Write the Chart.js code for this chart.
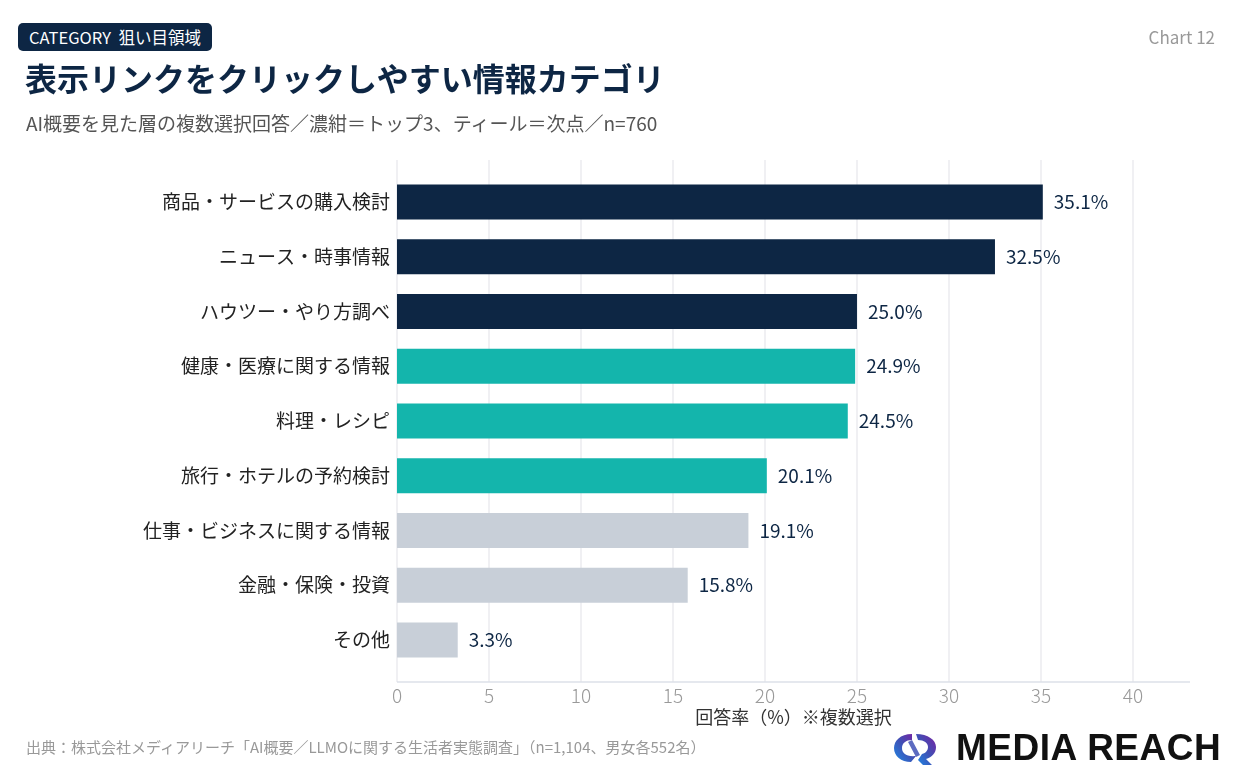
<!DOCTYPE html>
<html lang="ja">
<head>
<meta charset="utf-8">
<script src="https://cdn.jsdelivr.net/npm/chart.js@4"></script>
<style>
  html, body { margin: 0; padding: 0; background: #fff; }
  body { width: 1240px; height: 769px; position: relative; overflow: hidden;
         font-family: "Noto Sans CJK JP", "Noto Sans", sans-serif; }
  #myChart { position: absolute; left: 0; top: 0; }
  .badge { position: absolute; left: 18px; top: 23px; height: 28px; padding: 0 11px;
           background: #0d2644; color: #fff; border-radius: 5px; font-size: 16.5px; line-height: 28px; }
  .title { position: absolute; left: 25px; top: 54px; font-size: 32px; font-weight: 700; color: #0d2644; }
  .sub { position: absolute; left: 26px; top: 109px; font-size: 19px; color: #555; }
  .num { position: absolute; right: 25px; top: 24px; font-size: 17px; color: #999; }
  .src { position: absolute; left: 26px; top: 736px; font-size: 15px; color: #999; }
  .logo { position: absolute; left: 892px; top: 728px; height: 40px; display: flex; align-items: center; }
  .logo span { font-family: "Liberation Sans", Arial, sans-serif; font-weight: 700; font-size: 37px;
               color: #111; margin-left: 18px; letter-spacing: 0.5px; }
</style>
</head>
<body>
<canvas id="myChart" width="1240" height="769"></canvas>
<div class="badge">CATEGORY&nbsp;&nbsp;狙い目領域</div>
<div class="title">表示リンクをクリックしやすい情報カテゴリ</div>
<div class="sub">AI概要を見た層の複数選択回答／濃紺＝トップ3、ティール＝次点／n=760</div>
<div class="num">Chart 12</div>
<div class="src">出典：株式会社メディアリーチ「AI概要／LLMOに関する生活者実態調査」（n=1,104、男女各552名）</div>
<div class="logo">
  <svg width="46" height="38" viewBox="0 0 46 38">
    <defs>
      <linearGradient id="lg" x1="0" y1="1" x2="1" y2="0">
        <stop offset="0" stop-color="#1e88e5"/>
        <stop offset="0.5" stop-color="#3f51b5"/>
        <stop offset="1" stop-color="#7b1fa2"/>
      </linearGradient>
    </defs>
    <path d="M20 5 C8 5 2 12 2 19 C2 27 9 33 19 33 L24 27 C14 28 10 24 10 19 C10 14 14 11 20 11 Z" fill="url(#lg)"/>
    <path d="M24 5 C36 5 44 11 44 18 C44 24 40 28 34 30 L40 36 L31 36 L26 31 L30 25 C34 24 36 21 36 18 C36 14 32 11 26 11 Z" fill="url(#lg)"/>
    <path d="M20 11 L28 26 L24 28 L16 13 Z" fill="#5c6bc0"/>
  </svg>
  <span>MEDIA REACH</span>
</div>
<script>
const categories = ['商品・サービスの購入検討', 'ニュース・時事情報', 'ハウツー・やり方調べ', '健康・医療に関する情報',
  '料理・レシピ', '旅行・ホテルの予約検討', '仕事・ビジネスに関する情報', '金融・保険・投資', 'その他'];
const values = [35.1, 32.5, 25.0, 24.9, 24.5, 20.1, 19.1, 15.8, 3.3];
const tiers = ['top', 'top', 'top', 'next', 'next', 'next', 'rest', 'rest', 'rest'];
const xTicks = [0, 5, 10, 15, 20, 25, 30, 35, 40];

const tierColors = { top: '#0d2644', next: '#14b5ac', rest: '#c8cfd8' };

// grid lines run a bit past the bar area, so draw them by hand
const gridPlugin = {
    id: 'grid',
    beforeDatasetsDraw(chart) {
        const c = chart.ctx;
        const x = chart.scales.x;
        c.save();
        c.strokeStyle = '#ebebef';
        c.lineWidth = 1.5;
        xTicks.forEach(v => {
            const px = Math.round(x.getPixelForValue(v));
            c.beginPath();
            c.moveTo(px, 160);
            c.lineTo(px, 682);
            c.stroke();
        });
        c.strokeStyle = '#dde1e8';
        c.lineWidth = 1.5;
        c.beginPath();
        c.moveTo(x.left, 682);
        c.lineTo(x.right, 682);
        c.stroke();
        c.restore();
    }
};

const valuePlugin = {
    id: 'values',
    afterDatasetsDraw(chart) {
        const c = chart.ctx;
        c.save();
        c.font = '19px "Noto Sans CJK JP", "Noto Sans", sans-serif';
        c.fillStyle = '#0d2644';
        c.textAlign = 'left';
        c.textBaseline = 'middle';
        chart.getDatasetMeta(0).data.forEach((bar, i) => {
            c.fillText(values[i].toFixed(1) + '%', bar.x + 11, bar.y);
        });
        c.restore();
    }
};

const ctx = document.getElementById('myChart');
new Chart(ctx, {
    type: 'bar',
    data: {
        labels: categories,
        datasets: [{
            data: values,
            backgroundColor: tiers.map(t => tierColors[t]),
            borderWidth: 0,
            barPercentage: 0.64,
            categoryPercentage: 1
        }]
    },
    options: {
        indexAxis: 'y',
        responsive: false,
        animation: false,
        devicePixelRatio: 1,
        layout: {
            padding: { top: 174.6, bottom: 29, left: 0, right: 50 }
        },
        plugins: {
            legend: { display: false },
            tooltip: { enabled: false }
        },
        scales: {
            x: {
                min: 0,
                max: 43.1,
                grid: { display: false, drawTicks: false },
                border: { display: false },
                ticks: {
                    stepSize: 5,
                    includeBounds: false,
                    padding: 17,
                    color: '#999',
                    font: { size: 19, family: '"Noto Sans CJK JP", "Noto Sans", sans-serif', weight: 300 }
                },
                title: {
                    display: true,
                    text: '回答率（%）※複数選択',
                    color: '#333',
                    padding: { top: 0, bottom: 12 },
                    font: { size: 18, family: '"Noto Sans CJK JP", sans-serif' }
                },
                afterFit(scale) { scale.height = 72.6; }
            },
            y: {
                grid: { display: false, drawTicks: false },
                border: { display: false },
                ticks: {
                    padding: 7,
                    color: '#222',
                    font: { size: 19, family: '"Noto Sans CJK JP", sans-serif' }
                },
                afterFit(scale) { scale.width = 397; }
            }
        }
    },
    plugins: [gridPlugin, valuePlugin]
});
</script>
</body>
</html>
